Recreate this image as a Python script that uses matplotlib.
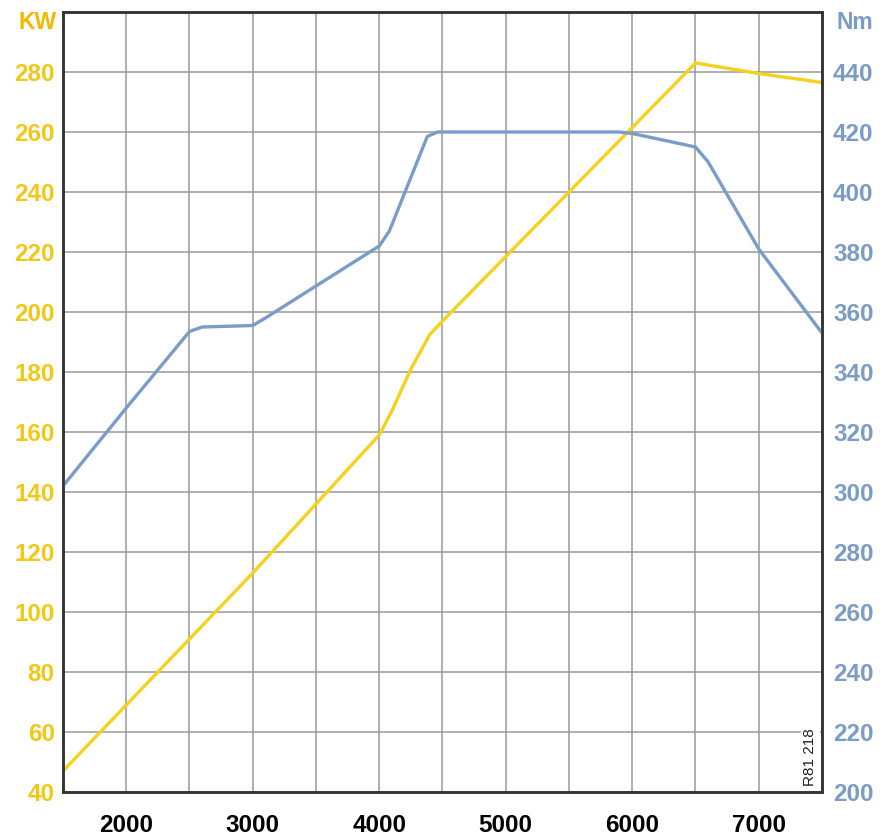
import matplotlib.pyplot as plt
from matplotlib.ticker import MultipleLocator

# engine speed vs power (KW) and torque (Nm)
rpm_kw = [1500, 2000, 3000, 4000, 4100, 4250, 4400, 4500, 5000, 6000, 6500, 7000, 7500]
kw = [47, 69, 113, 159, 167, 181, 192.5, 197, 218.5, 261.5, 283, 279.5, 276.5]

rpm_nm = [1500, 2000, 2500, 2600, 3000, 3100, 4000, 4080, 4380, 4460, 5900, 6000, 6500, 6600, 7000, 7500]
nm = [302, 328, 353.5, 355, 355.5, 358, 382, 387, 418.5, 420, 420, 419.5, 415, 410, 381, 353]

x_ticks = [2000, 3000, 4000, 5000, 6000, 7000]
kw_ticks = list(range(40, 281, 20))
nm_ticks = list(range(200, 441, 20))

yellow = '#f5d21e'
yellow_txt = '#f2c715'
blue = '#7a9cc9'
blue_txt = '#7b9cc6'

plt.rcParams['font.family'] = ['Liberation Sans', 'DejaVu Sans']

fig = plt.figure(figsize=(8.84, 8.40), dpi=100)
ax = fig.add_axes([63/884, 48/840, 759/884, 780/840])
ax2 = ax.twinx()

ax.plot(rpm_kw, kw, color=yellow, lw=2.4, solid_joinstyle='round')
ax2.plot(rpm_nm, nm, color=blue, lw=2.4, solid_joinstyle='round')

ax.set_xlim(1500, 7500)
ax.set_ylim(40, 300)
ax2.set_ylim(200, 460)

ax.set_xticks(x_ticks)
ax.xaxis.set_minor_locator(MultipleLocator(500))
ax.set_yticks(kw_ticks)
ax2.set_yticks(nm_ticks)

ax.grid(True, which='both', color='#9a9a9a', lw=1.1)
ax.set_axisbelow(True)

ax.tick_params(axis='x', which='both', length=0, pad=16, labelsize=17.5)
ax.tick_params(axis='y', length=0, pad=6, labelsize=17.5, labelcolor=yellow_txt)
ax2.tick_params(axis='y', length=0, pad=8, labelsize=17.5, labelcolor=blue_txt)
for t in ax.get_xticklabels() + ax.get_yticklabels() + ax2.get_yticklabels():
    t.set_fontweight('bold')

for a in (ax, ax2):
    for s in a.spines.values():
        s.set_color('#333333')
        s.set_linewidth(1.8)

ax.text(-0.009, 0.987, 'KW', transform=ax.transAxes, ha='right', va='center',
        fontsize=16.5, fontweight='bold', color='#f5b800')
ax.text(1.019, 0.987, 'Nm', transform=ax.transAxes, ha='left', va='center',
        fontsize=16.5, fontweight='bold', color=blue_txt)

ax2.text(0.994, 0.008, 'R81 218', transform=ax.transAxes, rotation=90,
         ha='right', va='bottom', fontsize=11, color='#222222',
         bbox=dict(facecolor='white', edgecolor='none', pad=1.5))

fig.savefig('out.png', dpi=100)
